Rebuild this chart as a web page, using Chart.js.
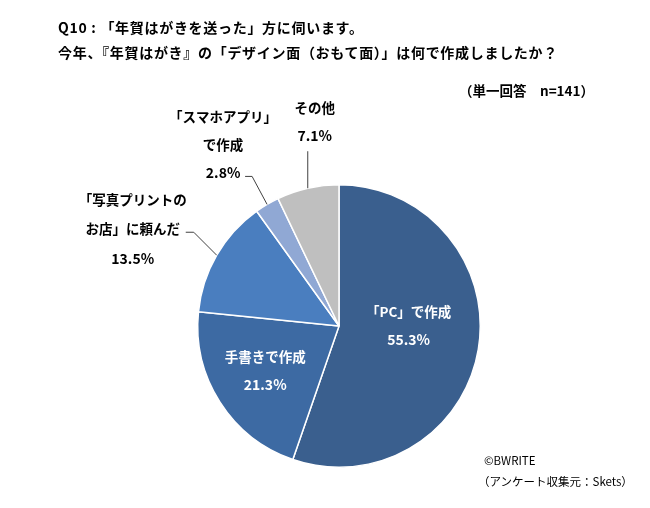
<!DOCTYPE html>
<html>
<head>
<meta charset="utf-8">
<script src="https://cdn.jsdelivr.net/npm/chart.js@4.4.1/dist/chart.umd.min.js"></script>
<style>
  body { margin: 0; background: #fff; }
  #wrap { position: relative; width: 650px; height: 508px; font-family: "Noto Sans CJK JP", sans-serif; color: #000; }
  #wrap canvas { position: absolute; left: 0; top: 0; }
  .txt { position: absolute; white-space: nowrap; line-height: 1; }
  .head { font-weight: bold; font-size: 14px; letter-spacing: 0.7px; }
  .b { font-weight: bold; font-size: 13.5px; }
  .foot { font-size: 11.5px; }
</style>
</head>
<body>
<div id="wrap">
  <canvas id="pie" width="650" height="508"></canvas>
  <div class="txt head" style="left:58px; top:20px;">Q10 : 「年賀はがきを送った」方に伺います。</div>
  <div class="txt head" style="left:58px; top:45px;">今年、『年賀はがき』の「デザイン面（おもて面）」は何で作成しましたか？</div>
  <div class="txt b" style="left:459px; top:84px;">（単一回答　n=141）</div>
  <div class="txt foot" style="left:484px; top:455px;">©BWRITE</div>
  <div class="txt foot" style="left:478px; top:476px;">（アンケート収集元：Skets）</div>
</div>

<script>
// answers, clockwise from 12 o'clock
const categories = ["「PC」で作成", "手書きで作成", "「写真プリントのお店」に頼んだ", "「スマホアプリ」で作成", "その他"];
const shares = [55.3, 21.3, 13.5, 2.8, 7.1];
const labelLines = [
  ["「PC」で作成"],
  ["手書きで作成"],
  ["「写真プリントの", "お店」に頼んだ"],
  ["「スマホアプリ」", "で作成"],
  ["その他"]
];

const sliceColors = ["#3A5F8E", "#3D6AA3", "#4A7EBF", "#90A8D4", "#BFBFBF"];

// where each label goes: inside the slice, or out on a leader line
const labelStyle = [
  { inside: true, frac: 0.5, dy: -12 },
  { inside: true, frac: 0.62, dy: -2 },
  { elbow: [-23, -23], tail: -8, textDx: -53, lineGap: 29, lastDy: 26 },
  { elbow: [-15, -28], tail: -7, textDx: -22, lineGap: 28, lastDy: -4 },
  { elbow: [0, -37], tail: 0, textDx: 7, lineGap: 27, lastDy: -16 }
];

const pieLabels = {
  id: "pieLabels",
  afterDatasetsDraw(chart) {
    const ctx = chart.ctx;
    const arcs = chart.getDatasetMeta(0).data;
    ctx.save();
    ctx.textAlign = "center";
    ctx.textBaseline = "middle";
    arcs.forEach((arc, i) => {
      const { x, y, startAngle, endAngle, outerRadius } = arc.getProps(["x", "y", "startAngle", "endAngle", "outerRadius"]);
      const mid = (startAngle + endAngle) / 2;
      const st = labelStyle[i];
      const pct = shares[i].toFixed(1) + "%";
      if (st.inside) {
        const cx = x + Math.cos(mid) * outerRadius * st.frac;
        const cy = y + Math.sin(mid) * outerRadius * st.frac + st.dy;
        ctx.fillStyle = "#fff";
        ctx.font = "bold 13.5px 'Noto Sans CJK JP'";
        ctx.fillText(labelLines[i][0], cx, cy - 14);
        ctx.font = "bold 14px 'Noto Sans CJK JP'";
        ctx.fillText(pct, cx, cy + 14);
        return;
      }
      const ax = x + Math.cos(mid) * outerRadius;
      const ay = y + Math.sin(mid) * outerRadius;
      const ex = ax + st.elbow[0];
      const ey = ay + st.elbow[1];
      const tx = ex + st.tail;
      ctx.strokeStyle = "#404040";
      ctx.lineWidth = 1;
      ctx.beginPath();
      ctx.moveTo(ax, ay);
      ctx.lineTo(ex, ey);
      ctx.lineTo(tx, ey);
      ctx.stroke();
      const lines = labelLines[i].concat([pct]);
      const cx = tx + st.textDx;
      let ly = ey + st.lastDy - st.lineGap * (lines.length - 1);
      ctx.fillStyle = "#000";
      lines.forEach((s, k) => {
        ctx.font = k === lines.length - 1 ? "bold 14px 'Noto Sans CJK JP'" : "bold 13.5px 'Noto Sans CJK JP'";
        ctx.fillText(s, cx, ly);
        ly += st.lineGap;
      });
    });
    ctx.restore();
  }
};

new Chart(document.getElementById("pie"), {
  type: "pie",
  data: {
    labels: categories,
    datasets: [{
      data: shares,
      backgroundColor: sliceColors,
      borderColor: "#fff",
      borderWidth: 1.5
    }]
  },
  options: {
    responsive: false,
    devicePixelRatio: 1,
    animation: false,
    layout: { padding: { left: 197, right: 169, top: 184, bottom: 40 } },
    plugins: { legend: { display: false }, tooltip: { enabled: false } }
  },
  plugins: [pieLabels]
});
</script>
</body>
</html>
